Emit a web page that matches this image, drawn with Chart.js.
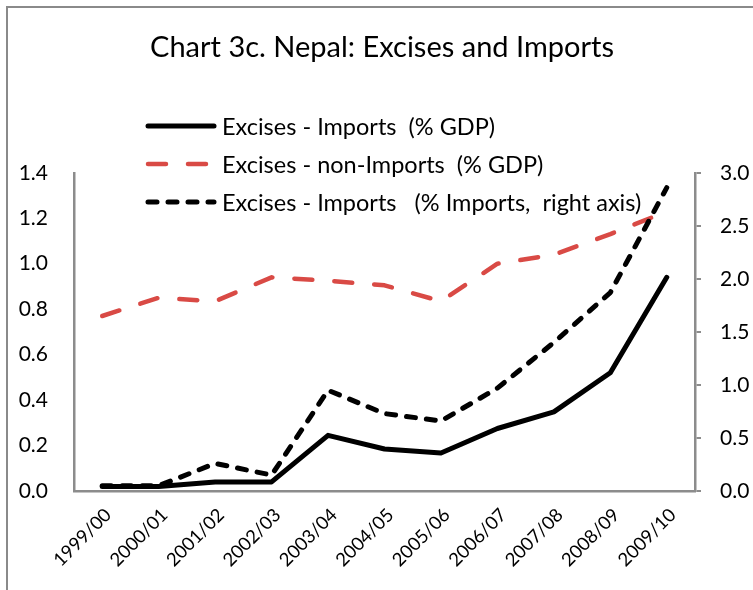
<!DOCTYPE html>
<html>
<head>
<meta charset="utf-8">
<script src="https://cdn.jsdelivr.net/npm/chart.js@4"></script>
<style>
html,body{margin:0;padding:0;background:#fff;}
#wrap{position:relative;width:753px;height:590px;}
</style>
</head>
<body>
<div id="wrap"><canvas id="c" width="753" height="590"></canvas></div>
<script>
const categories = ["1999/00","2000/01","2001/02","2002/03","2003/04","2004/05","2005/06","2006/07","2007/08","2008/09","2009/10"];
const importsGDP = [0.02, 0.02, 0.04, 0.04, 0.245, 0.185, 0.167, 0.275, 0.348, 0.52, 0.94];
const nonImportsGDP = [0.77, 0.85, 0.835, 0.94, 0.925, 0.905, 0.835, 1.0, 1.04, 1.13, 1.23];
const importsPctImports = [0.05, 0.05, 0.26, 0.15, 0.95, 0.73, 0.66, 0.97, 1.40, 1.87, 2.86];
const leftTicks = [0, 0.2, 0.4, 0.6, 0.8, 1.0, 1.2, 1.4];
const rightTicks = [0, 0.5, 1.0, 1.5, 2.0, 2.5, 3.0];
const titleText = "Chart 3c. Nepal: Excises and Imports";
const seriesLabels = ["Excises - Imports  (% GDP)", "Excises - non-Imports  (% GDP)", "Excises - Imports   (% Imports,  right axis)"];

const FONT = "Lato";
const AXIS_GRAY = "#8c8c8c";
const RED = "#d94a45";

const framePlugin = {
  id: 'frame',
  beforeDraw(chart) {
    const ctx = chart.ctx;
    ctx.save();
    ctx.fillStyle = '#fff';
    ctx.fillRect(0, 0, chart.width, chart.height);
    ctx.strokeStyle = '#8a8a8a';
    ctx.lineWidth = 2;
    ctx.beginPath();
    ctx.moveTo(7, chart.height);
    ctx.lineTo(7, 7);
    ctx.lineTo(chart.width, 7);
    ctx.stroke();
    ctx.restore();
  }
};

const legendPlugin = {
  id: 'customLegend',
  afterDraw(chart) {
    const ctx = chart.ctx;
    const rows = [126, 164, 202];
    ctx.save();
    ctx.font = "23.5px " + FONT;
    ctx.textBaseline = 'middle';
    ctx.fillStyle = '#000';
    chart.data.datasets.forEach((ds, i) => {
      const y = rows[i];
      ctx.save();
      ctx.strokeStyle = ds.borderColor;
      ctx.lineWidth = ds.borderWidth;
      ctx.lineCap = ds.borderCapStyle || 'butt';
      ctx.setLineDash(ds.borderDash || []);
      ctx.beginPath();
      ctx.moveTo(148, y);
      ctx.lineTo(214, y);
      ctx.stroke();
      ctx.restore();
      ctx.fillText(ds.label, 222, y + 1);
    });
    ctx.restore();
  }
};

new Chart(document.getElementById('c'), {
  type: 'line',
  data: {
    labels: categories,
    datasets: [
      {
        label: seriesLabels[0],
        data: importsGDP,
        yAxisID: 'y',
        borderColor: '#000',
        borderWidth: 5,
        borderCapStyle: 'round',
        borderJoinStyle: 'round',
        pointRadius: 0,
        tension: 0,
        order: 1
      },
      {
        label: seriesLabels[1],
        data: nonImportsGDP,
        yAxisID: 'y',
        borderColor: RED,
        borderWidth: 4.5,
        borderDash: [18, 22],
        borderCapStyle: 'round',
        borderJoinStyle: 'round',
        pointRadius: 0,
        tension: 0,
        order: 3
      },
      {
        label: seriesLabels[2],
        data: importsPctImports,
        yAxisID: 'y1',
        borderColor: '#000',
        borderWidth: 5,
        borderDash: [9, 11],
        borderCapStyle: 'round',
        borderJoinStyle: 'round',
        pointRadius: 0,
        tension: 0,
        order: 2
      }
    ]
  },
  options: {
    responsive: false,
    animation: false,
    devicePixelRatio: 1,
    layout: { padding: { left: 11, right: 0, top: 0, bottom: 0 } },
    plugins: {
      legend: { display: false },
      tooltip: { enabled: false },
      title: {
        display: true,
        text: titleText,
        color: '#000',
        font: { family: FONT, size: 29, weight: 'normal', lineHeight: 1.2 },
        padding: { top: 30, bottom: 108 }
      }
    },
    scales: {
      x: {
        type: 'category',
        offset: true,
        grid: { display: false, drawTicks: false },
        border: { display: true, color: AXIS_GRAY, width: 2.5 },
        ticks: {
          color: '#000',
          font: { family: FONT, size: 18.5 },
          maxRotation: 45,
          minRotation: 45,
          autoSkip: false,
          padding: 13,
          labelOffset: 6
        },
        afterFit(scale) { scale.height = 99; }
      },
      y: {
        position: 'left',
        min: 0,
        max: 1.4,
        grid: { display: false, drawTicks: false },
        border: { display: true, color: AXIS_GRAY, width: 2.5 },
        afterBuildTicks(scale) { scale.ticks = leftTicks.map(v => ({ value: v })); },
        ticks: {
          color: '#000',
          font: { family: FONT, size: 21 },
          padding: 26,
          callback: (v) => Number(v).toFixed(1)
        },
        afterFit(scale) { scale.width = 63; }
      },
      y1: {
        position: 'right',
        min: 0,
        max: 3.0,
        grid: { display: true, drawOnChartArea: false, drawTicks: true, tickLength: 6, color: AXIS_GRAY, lineWidth: 2 },
        border: { display: true, color: AXIS_GRAY, width: 2.5 },
        afterBuildTicks(scale) { scale.ticks = rightTicks.map(v => ({ value: v })); },
        ticks: {
          color: '#000',
          font: { family: FONT, size: 21 },
          padding: 19,
          callback: (v) => Number(v).toFixed(1)
        },
        afterFit(scale) { scale.width = 58; }
      }
    }
  },
  plugins: [framePlugin, legendPlugin]
});
</script>
</body>
</html>
